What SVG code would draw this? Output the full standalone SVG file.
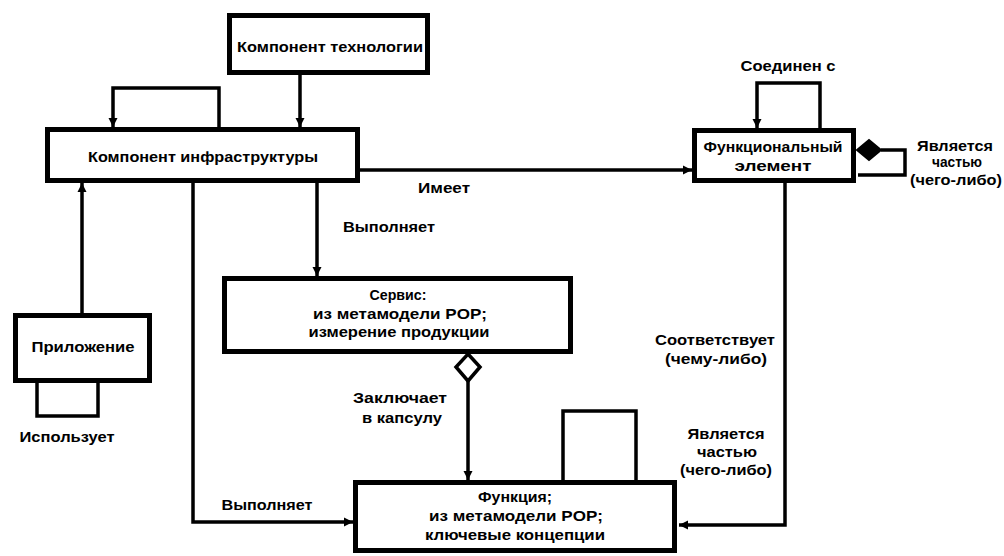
<svg xmlns="http://www.w3.org/2000/svg" width="1004" height="556" viewBox="0 0 1004 556">
<style>
.box{fill:#fff;stroke:#000;stroke-width:5}
.ln{fill:none;stroke:#000;stroke-width:3.5}
.t{font-family:"Liberation Sans",Arial,sans-serif;font-weight:bold;font-size:14px;fill:#000;text-anchor:middle}
</style>
<defs>
<marker id="arr" markerUnits="userSpaceOnUse" markerWidth="10" markerHeight="10" refX="9" refY="5" orient="auto">
<path d="M0,0.5 L9,5 L0,9.5 z" fill="#000"/>
</marker>
</defs>
<rect width="1004" height="556" fill="#fff"/>
<g id="connectors">
<path class="ln" d="M300,75 V127" marker-end="url(#arr)"/>
<path class="ln" d="M219,127 V88 H113 V127" marker-end="url(#arr)"/>
<path class="ln" d="M360,170 H692" marker-end="url(#arr)"/>
<path class="ln" d="M820,128 V83 H757 V128" marker-end="url(#arr)"/>
<path class="ln" d="M881,150 H905 V175 H858"/>
<polygon points="857,150 869,140 881,150 869,160" fill="#000" stroke="#000" stroke-width="2"/>
<path class="ln" d="M785,183 V525 H679" marker-end="url(#arr)"/>
<path class="ln" d="M317,183 V276" marker-end="url(#arr)"/>
<polygon points="468,354 480,367 468,381 456,367" fill="#fff" stroke="#000" stroke-width="3.5"/>
<path class="ln" d="M468,381 V480" marker-end="url(#arr)"/>
<path class="ln" d="M193,183 V522 H353" marker-end="url(#arr)"/>
<path class="ln" d="M82,313 V183" marker-end="url(#arr)"/>
<path class="ln" d="M37,383 V416 H98 V383"/>
<path class="ln" d="M563,480 V411 H636 V480"/>
<text class="t" x="444" y="193" textLength="52" lengthAdjust="spacingAndGlyphs">Имеет</text>
<text class="t" x="788" y="71" textLength="95" lengthAdjust="spacingAndGlyphs">Соединен с</text>
<text class="t" x="955" y="151" textLength="76" lengthAdjust="spacingAndGlyphs">Является</text>
<text class="t" x="957" y="167" textLength="50" lengthAdjust="spacingAndGlyphs">частью</text>
<text class="t" x="956" y="185" textLength="92" lengthAdjust="spacingAndGlyphs">(чего-либо)</text>
<text class="t" x="389" y="232" textLength="92" lengthAdjust="spacingAndGlyphs">Выполняет</text>
<text class="t" x="400" y="403" textLength="94" lengthAdjust="spacingAndGlyphs">Заключает</text>
<text class="t" x="402" y="423" textLength="80" lengthAdjust="spacingAndGlyphs">в капсулу</text>
<text class="t" x="267" y="510" textLength="91" lengthAdjust="spacingAndGlyphs">Выполняет</text>
<text class="t" x="715" y="345" textLength="120" lengthAdjust="spacingAndGlyphs">Соответствует</text>
<text class="t" x="716" y="364" textLength="102" lengthAdjust="spacingAndGlyphs">(чему-либо)</text>
<text class="t" x="726" y="439" textLength="77" lengthAdjust="spacingAndGlyphs">Является</text>
<text class="t" x="727" y="457" textLength="60" lengthAdjust="spacingAndGlyphs">частью</text>
<text class="t" x="726" y="475" textLength="92" lengthAdjust="spacingAndGlyphs">(чего-либо)</text>
<text class="t" x="67" y="442" textLength="95" lengthAdjust="spacingAndGlyphs">Использует</text>
</g>
<g id="tech">
<rect class="box" x="229.5" y="15.5" width="198" height="57"/>
<text class="t" x="330" y="52" textLength="186" lengthAdjust="spacingAndGlyphs">Компонент технологии</text>
</g>
<g id="infra">
<rect class="box" x="47.5" y="129.5" width="310" height="51"/>
<text class="t" x="203" y="162" textLength="230" lengthAdjust="spacingAndGlyphs">Компонент инфраструктуры</text>
</g>
<g id="funcelem">
<rect class="box" x="694.5" y="130.5" width="159" height="50"/>
<text class="t" x="773" y="152" textLength="139" lengthAdjust="spacingAndGlyphs">Функциональный</text>
<text class="t" x="773" y="171" textLength="77" lengthAdjust="spacingAndGlyphs">элемент</text>
</g>
<g id="service">
<rect class="box" x="224.5" y="278.5" width="346" height="73"/>
<text class="t" x="398" y="300" textLength="57" lengthAdjust="spacingAndGlyphs">Сервис:</text>
<text class="t" x="400" y="319" textLength="174" lengthAdjust="spacingAndGlyphs">из метамодели POP;</text>
<text class="t" x="399" y="337" textLength="181" lengthAdjust="spacingAndGlyphs">измерение продукции</text>
</g>
<g id="app">
<rect class="box" x="15.5" y="315.5" width="134" height="65"/>
<text class="t" x="83" y="352" textLength="103" lengthAdjust="spacingAndGlyphs">Приложение</text>
</g>
<g id="function">
<rect class="box" x="355.5" y="482.5" width="319" height="68"/>
<text class="t" x="515" y="502" textLength="74" lengthAdjust="spacingAndGlyphs">Функция;</text>
<text class="t" x="516" y="521" textLength="174" lengthAdjust="spacingAndGlyphs">из метамодели POP;</text>
<text class="t" x="515" y="540" textLength="180" lengthAdjust="spacingAndGlyphs">ключевые концепции</text>
</g>
</svg>
